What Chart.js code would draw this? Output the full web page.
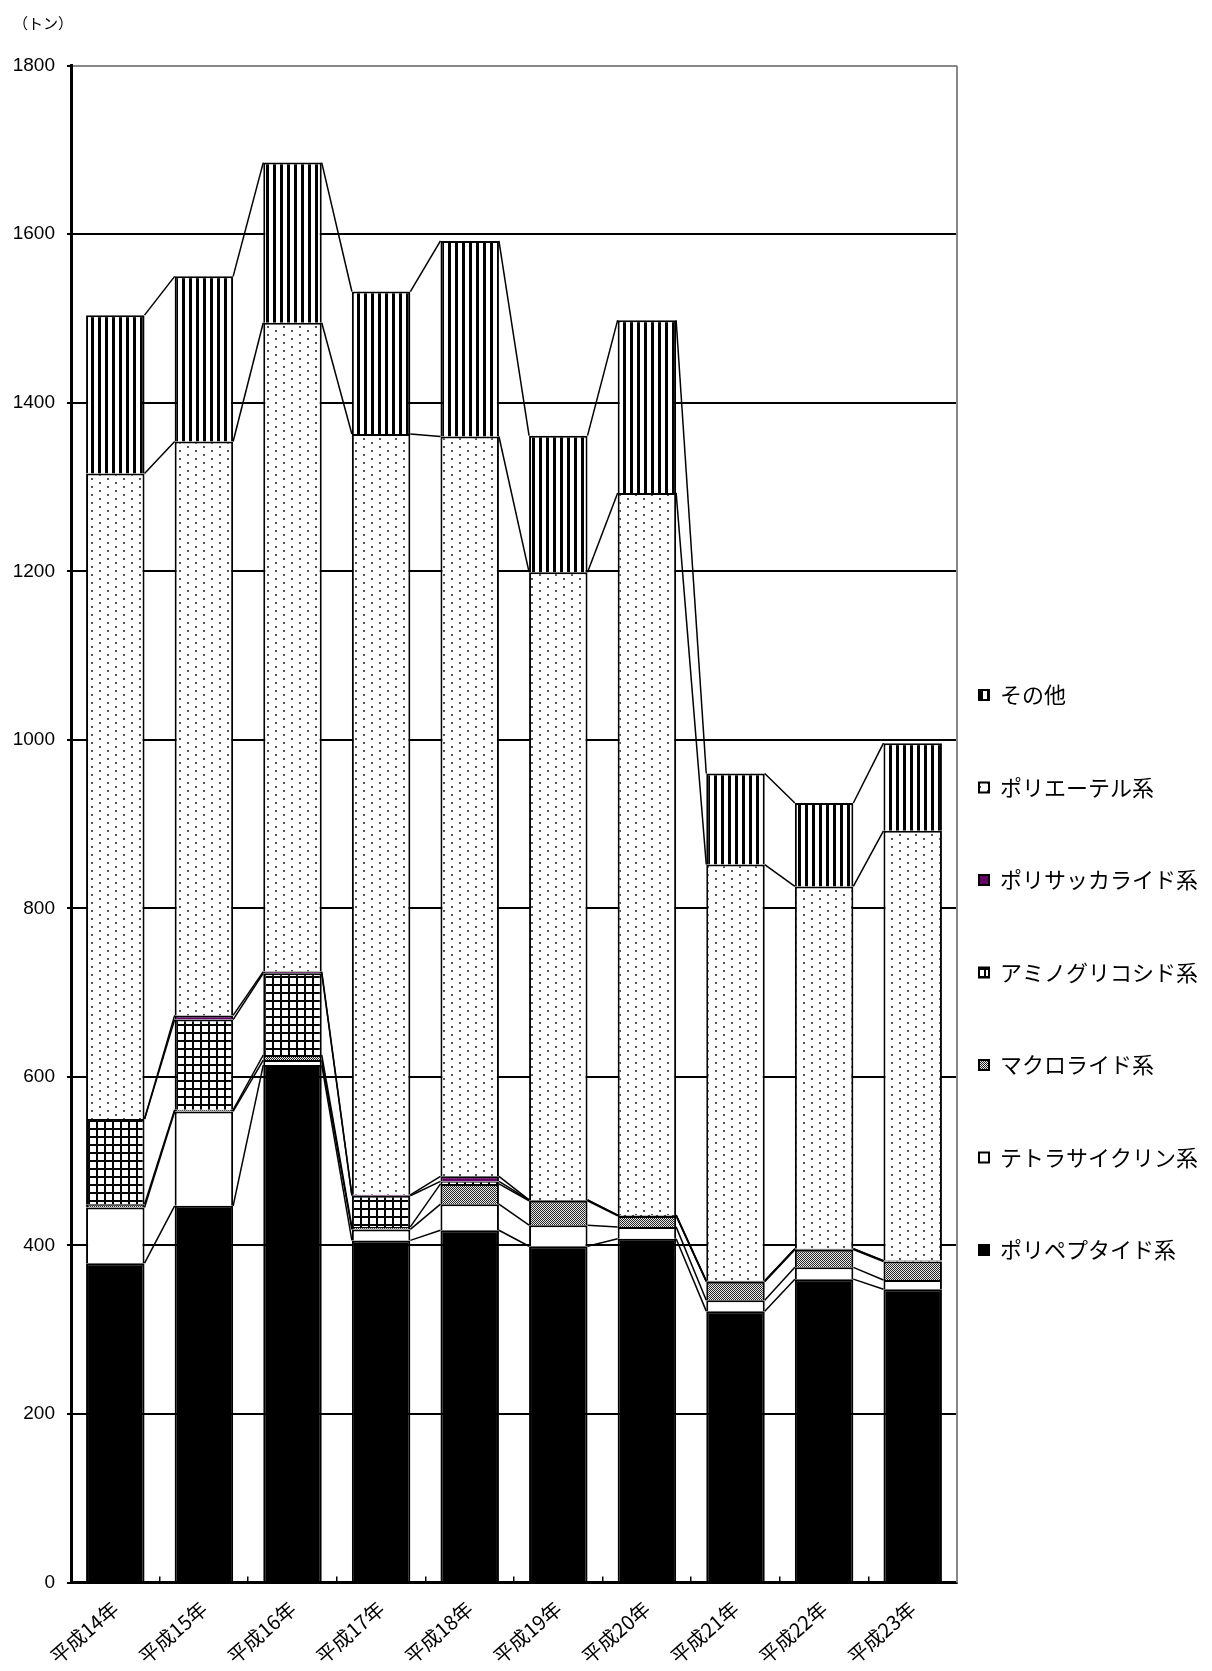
<!DOCTYPE html>
<html>
<head>
<meta charset="utf-8">
<script src="https://cdn.jsdelivr.net/npm/chart.js@4.4.1/dist/chart.umd.min.js"></script>
<style>
  html, body { margin: 0; padding: 0; background: #fff; }
</style>
</head>
<body>
<canvas id="chart" width="1212" height="1671"></canvas>
<script>
// 年次
const years = ['平成14年', '平成15年', '平成16年', '平成17年', '平成18年',
               '平成19年', '平成20年', '平成21年', '平成22年', '平成23年'];

// 系統別の量（トン）— 下から積み上げ
const polypeptide    = [379, 447, 614, 406, 418, 399, 408, 322, 360, 348];
const tetracycline   = [66, 112, 6, 13, 31, 25, 14, 13, 14, 11];
const macrolide      = [4, 2, 6, 3, 24, 29, 13, 22, 21, 22];
const aminoglycoside = [101, 107, 97, 37, 3, 1, 1, 1, 1, 1];
const polysaccharide = [0, 5, 2, 1, 6, 0, 0, 0, 0, 0];
const polyether      = [766, 681, 770, 903, 878, 745, 857, 494, 430, 510];
const others         = [188, 196, 190, 169, 232, 162, 205, 108, 99, 104];

const yTicks = [0, 200, 400, 600, 800, 1000, 1200, 1400, 1600, 1800];

const JP = '"Noto Sans CJK JP", sans-serif';

function makePattern(w, h, draw) {
  const c = document.createElement('canvas');
  c.width = w; c.height = h;
  const g = c.getContext('2d');
  draw(g);
  return g.createPattern(c, 'repeat');
}

const stripes = makePattern(7, 1, g => {
  g.fillStyle = '#fff'; g.fillRect(0, 0, 7, 1);
  g.fillStyle = '#000'; g.fillRect(0, 0, 3, 1);
});
const grid = makePattern(8, 8, g => {
  g.fillStyle = '#fff'; g.fillRect(0, 0, 8, 8);
  g.fillStyle = '#000'; g.fillRect(0, 0, 8, 2); g.fillRect(0, 0, 2, 8);
});
const dots = makePattern(16, 8, g => {
  g.fillStyle = '#fff'; g.fillRect(0, 0, 16, 8);
  g.fillStyle = '#555'; g.fillRect(3, 2, 2, 2); g.fillRect(11, 6, 2, 2);
});
const checker = makePattern(2, 2, g => {
  g.fillStyle = '#e8e8e8'; g.fillRect(0, 0, 2, 2);
  g.fillStyle = '#262626'; g.fillRect(0, 0, 1, 1); g.fillRect(1, 1, 1, 1);
});

function series(label, data, fill) {
  return { label, data, backgroundColor: fill, borderColor: '#000', borderWidth: 2 };
}

// Excel風の区分線: 各系列の上端を隣の棒とつなぐ
const seriesLines = {
  id: 'seriesLines',
  afterDatasetsDraw(chart) {
    const ctx = chart.ctx;
    ctx.save();
    ctx.strokeStyle = '#000';
    ctx.lineWidth = 1.5;
    chart.data.datasets.forEach((ds, d) => {
      const bars = chart.getDatasetMeta(d).data;
      for (let i = 0; i < bars.length - 1; i++) {
        const a = bars[i], b = bars[i + 1];
        ctx.beginPath();
        ctx.moveTo(a.x + a.width / 2, a.y);
        ctx.lineTo(b.x - b.width / 2, b.y);
        ctx.stroke();
      }
    });
    ctx.restore();
  }
};

const plotBorder = {
  id: 'plotBorder',
  beforeDatasetsDraw(chart) {
    const { ctx, chartArea: a } = chart;
    ctx.save();
    ctx.strokeStyle = '#888';
    ctx.lineWidth = 2;
    ctx.beginPath();
    ctx.moveTo(a.right, a.top);
    ctx.lineTo(a.right, a.bottom);
    ctx.stroke();
    ctx.restore();
  }
};

new Chart(document.getElementById('chart'), {
  type: 'bar',
  data: {
    labels: years,
    datasets: [
      series('ポリペプタイド系', polypeptide, '#000'),
      series('テトラサイクリン系', tetracycline, '#fff'),
      series('マクロライド系', macrolide, checker),
      series('アミノグリコシド系', aminoglycoside, grid),
      series('ポリサッカライド系', polysaccharide, '#660066'),
      series('ポリエーテル系', polyether, dots),
      series('その他', others, stripes)
    ]
  },
  options: {
    responsive: false,
    animation: false,
    layout: { padding: { left: 13, right: 4, top: 0, bottom: 0 } },
    datasets: { bar: { categoryPercentage: 1, barPercentage: 0.66 } },
    scales: {
      x: {
        stacked: true,
        afterFit(s) { s.height = 88.5; },
        border: { display: true, color: '#000', width: 3 },
        grid: { drawOnChartArea: false, offset: true, color: '#000', lineWidth: 1.5, tickLength: -6 },
        ticks: {
          color: '#000', font: { family: JP, size: 20 },
          minRotation: 41, maxRotation: 41, autoSkip: false, padding: 20
        }
      },
      y: {
        stacked: true,
        min: 0, max: 1800,
        afterFit(s) { s.width = 58; },
        afterBuildTicks(s) { s.ticks = yTicks.map(v => ({ value: v })); },
        border: { display: true, color: '#000', width: 3 },
        grid: {
          color: c => (c.tick && c.tick.value === 1800 ? '#888' : '#000'),
          tickColor: '#000', lineWidth: 2, tickLength: 4
        },
        ticks: {
          color: '#000', padding: 12,
          font: { family: '"Liberation Sans", Arial, sans-serif', size: 19 },
          callback: v => String(v)
        }
      }
    },
    plugins: {
      title: {
        display: true, text: '（トン）', align: 'start', color: '#000',
        font: { family: JP, size: 15, weight: 'normal', lineHeight: 1.2 },
        padding: { top: 14, bottom: 33.7 }
      },
      legend: {
        position: 'right', align: 'start', reverse: true,
        title: { display: true, text: '', font: { size: 10, lineHeight: 1 }, padding: { top: 652, bottom: 0 } },
        labels: {
          color: '#000', boxWidth: 10, boxHeight: 10, padding: 22,
          font: { family: JP, size: 22, lineHeight: 70.5 / 22 },
          generateLabels(chart) {
            const items = Chart.defaults.plugins.legend.labels.generateLabels(chart);
            return items.map(it => Object.assign(it, { text: [it.text] }));
          }
        }
      },
      tooltip: { enabled: false }
    }
  },
  plugins: [plotBorder, seriesLines]
});
</script>
</body>
</html>
